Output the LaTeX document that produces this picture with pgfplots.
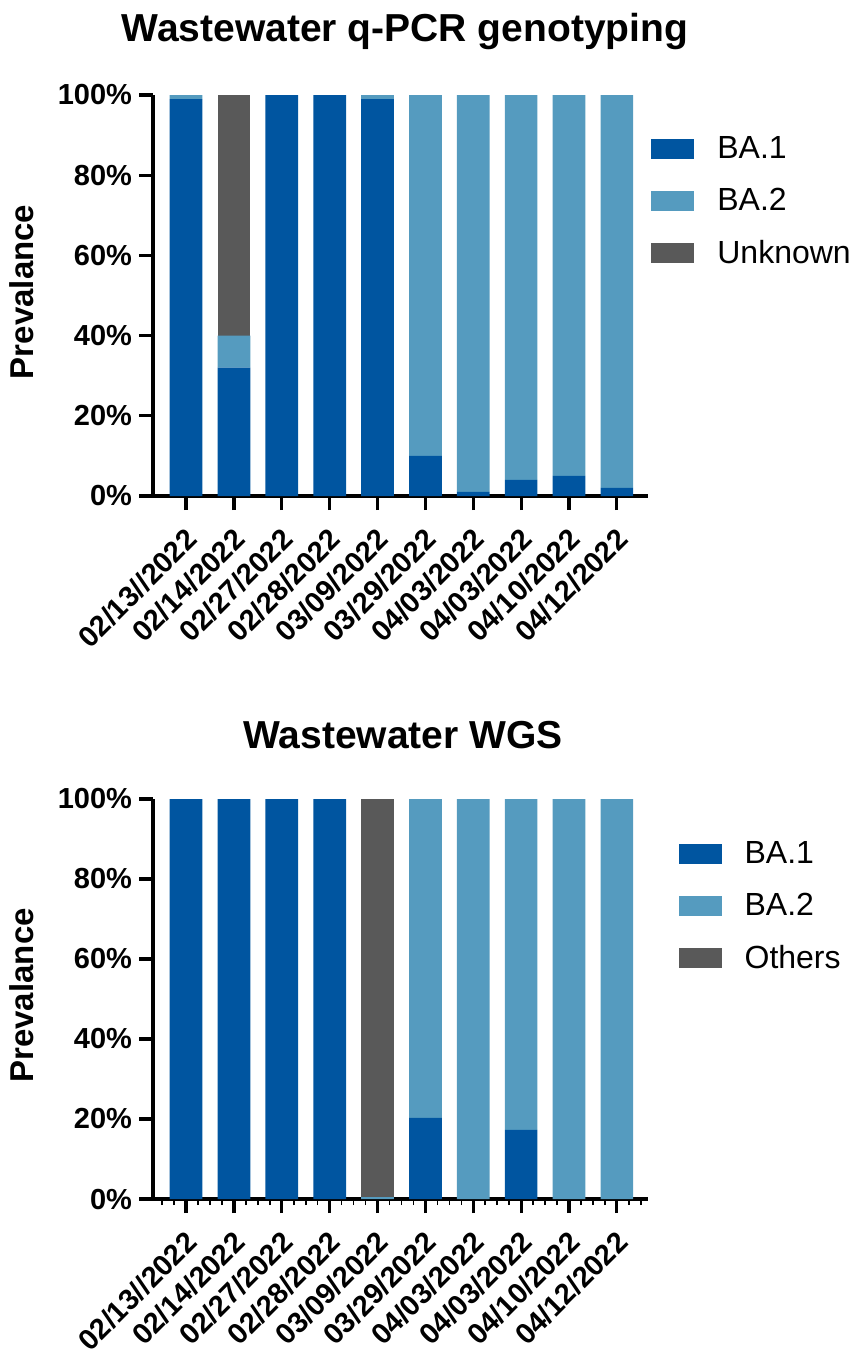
\documentclass[border=0pt]{standalone}
\usepackage{fontspec}
\setmainfont{Liberation Sans}
\usepackage{pgfplots}
\pgfplotsset{compat=1.18}
\definecolor{baone}{HTML}{0055A0}
\definecolor{batwo}{HTML}{559BBF}
\definecolor{unk}{HTML}{595959}
\pgfplotsset{
  prevstyle/.style={
    scale only axis, width=247.5pt,
    ybar stacked, bar width=16.35pt,
    xmin=-0.69, xmax=9.65, ymin=0, ymax=100, enlargelimits=false,
    axis x line*=bottom, axis y line*=left,
    axis line style={line width=1.6pt},
    tick style={line width=1.6pt, black},
    tick align=outside, major tick length=7pt,
    xtick={0,...,9},
    xticklabels={02/13//2022,02/14/2022,02/27/2022,02/28/2022,03/09/2022,03/29/2022,04/03/2022,04/03/2022,04/10/2022,04/12/2022},
    ytick={0,20,...,100},
    yticklabels={0\%,20\%,40\%,60\%,80\%,100\%},
    ticklabel style={font=\fontsize{14.5}{17}\selectfont\bfseries},
    xticklabel style={rotate=45, anchor=north east, xshift=-3pt, yshift=-1.5pt},
    ylabel={Prevalance},
    ylabel style={font=\fontsize{16.5}{18}\selectfont\bfseries, at={(axis description cs:-0.265,0.509)}, anchor=center},
    legend style={draw=none, fill=none, font=\fontsize{16}{18}\selectfont, row sep=13.3pt, column sep=11.5pt, anchor=north west, inner sep=0pt, nodes={inner sep=0pt}},
    legend cell align=left,
    legend image code/.code={\fill[##1] (0pt,-5pt) rectangle (21.5pt,5pt);},
  }
}
\begin{document}
\begin{tikzpicture}
\begin{axis}[prevstyle, height=200.5pt, at={(76.5pt,-248pt)}, anchor=south west,
  legend style={at={(1.006,0.898)}}]
\addplot[fill=baone, draw=none] coordinates {(0,99) (1,32) (2,100) (3,100) (4,99) (5,10) (6,1) (7,4) (8,5) (9,2)};
\addplot[fill=batwo, draw=none] coordinates {(0,1) (1,8) (2,0) (3,0) (4,1) (5,90) (6,99) (7,96) (8,95) (9,98)};
\addplot[fill=unk, draw=none] coordinates {(0,0) (1,60) (2,0) (3,0) (4,0) (5,0) (6,0) (7,0) (8,0) (9,0)};
\legend{BA.1,BA.2,Unknown}
\end{axis}
\begin{axis}[prevstyle, height=200pt, at={(76.5pt,-599.5pt)}, anchor=south west,
  minor xtick={-0.5,-0.25,...,9.5}, minor tick length=3pt,
  every minor tick/.append style={line width=0.8pt},
  legend style={at={(1.061,0.895)}}]
\addplot[fill=baone, draw=none] coordinates {(0,100) (1,100) (2,100) (3,100) (4,0) (5,20.3) (6,0) (7,17.3) (8,0) (9,0)};
\addplot[fill=batwo, draw=none] coordinates {(0,0) (1,0) (2,0) (3,0) (4,0.5) (5,79.7) (6,100) (7,82.7) (8,100) (9,100)};
\addplot[fill=unk, draw=none] coordinates {(0,0) (1,0) (2,0) (3,0) (4,99.5) (5,0) (6,0) (7,0) (8,0) (9,0)};
\legend{BA.1,BA.2,Others}
\end{axis}
\node[font=\fontsize{19.5}{22}\selectfont\bfseries, anchor=base] at (202.5pt,-21pt) {Wastewater q-PCR genotyping};
\node[font=\fontsize{19.5}{22}\selectfont\bfseries, anchor=base] at (201.5pt,-374pt) {Wastewater WGS};
\pgfresetboundingbox
\useasboundingbox (0,0) rectangle (429.5pt,-677pt);
\end{tikzpicture}
\end{document}
